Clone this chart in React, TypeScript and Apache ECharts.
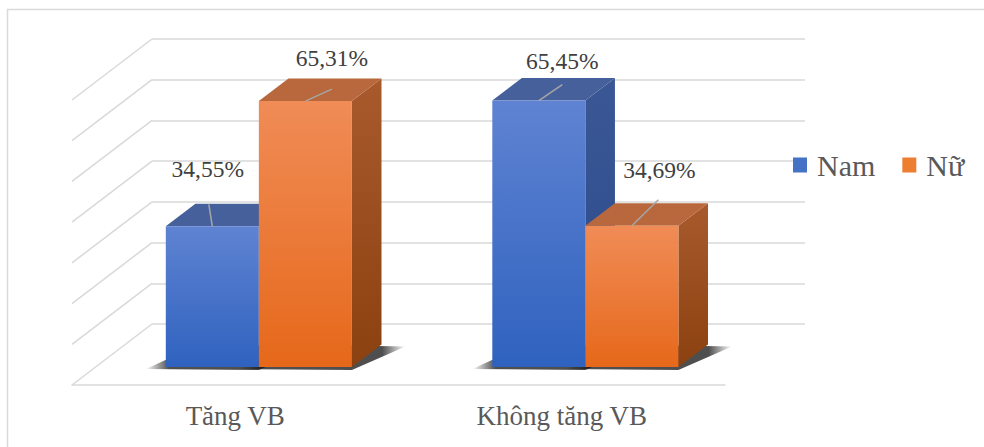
import React, { useEffect, useRef } from "react";
import * as echarts from "echarts";

const categories = ["Tăng VB", "Không tăng VB"];
const seriesNames = ["Nam", "Nữ"];
const namValues = [34.55, 65.45];
const nuValues = [65.31, 34.69];
const yTicks = [0, 10, 20, 30, 40, 50, 60, 70];
const yMin = 0;
const yMax = 70;
const yInterval = 10;

// style constants
const FONT = "Liberation Serif";
const DEPTH = [80, -61]; // oblique depth vector of the floor
const D_FRONT = 0.295;
const D_BACK = 0.665;
const BAR_RATIO = 0.285;
const labelOffsets = [
  [[-4.5, -57], [23.5, -40]],
  [[26.5, -43.5], [27.5, -55.5]],
];
const leaderEnds = [
  [[-3.5, -22], [23.5, -16]],
  [[26.5, -12], [26.5, -26]],
];
const palette = [
  {
    legend: "#4472C4",
    front: ["#5F83D2", "#2F62BF"],
    top: "#46609B",
    side: ["#3B5795", "#2A4A8C"],
  },
  {
    legend: "#ED7D31",
    front: ["#F08C57", "#E6681A"],
    top: "#B8683C",
    side: ["#A85A2D", "#8C4110"],
  },
];

const fmt = (v: number) => v.toFixed(2).replace(".", ",") + "%";

function vgrad(c: string[]) {
  return {
    type: "linear",
    x: 0,
    y: 0,
    x2: 0,
    y2: 1,
    colorStops: [
      { offset: 0, color: c[0] },
      { offset: 1, color: c[1] },
    ],
  };
}

function barGeom(api: any, s: number) {
  const cat = api.value(0);
  const val = api.value(1);
  const base = api.coord([cat, 0]);
  const top = api.coord([cat, val]);
  const band = api.size([1, 0])[0];
  const w = band * BAR_RATIO;
  const x0 = base[0] - w + s * w + D_FRONT * DEPTH[0];
  const yb = base[1] + D_FRONT * DEPTH[1];
  const yt = top[1] + D_FRONT * DEPTH[1];
  const dx = (D_BACK - D_FRONT) * DEPTH[0];
  const dy = (D_BACK - D_FRONT) * DEPTH[1];
  return { cat, val, x0, yb, yt, w, dx, dy };
}

function makeBarRender(s: number) {
  return (params: any, api: any) => {
    const { cat, val, x0, yb, yt, w, dx, dy } = barGeom(api, s);
    const p = palette[s];
    const cx = x0 + w / 2;
    const lo = labelOffsets[s][cat];
    const le = leaderEnds[s][cat];
    return {
      type: "group",
      children: [
        {
          type: "polygon",
          shape: {
            points: [
              [x0 + w, yt],
              [x0 + w + dx, yt + dy],
              [x0 + w + dx, yb + dy],
              [x0 + w, yb],
            ],
          },
          style: { fill: vgrad(p.side) },
        },
        {
          type: "polygon",
          shape: {
            points: [
              [x0, yt],
              [x0 + w, yt],
              [x0 + w + dx, yt + dy],
              [x0 + dx, yt + dy],
            ],
          },
          style: { fill: p.top },
        },
        {
          type: "rect",
          shape: { x: x0, y: yt, width: w, height: yb - yt },
          style: { fill: vgrad(p.front) },
        },
        {
          type: "line",
          shape: { x1: cx, y1: yt, x2: cx + le[0], y2: yt + le[1] },
          style: { stroke: "#A6A6A6", lineWidth: 1.5 },
        },
        {
          type: "text",
          x: cx + lo[0],
          y: yt + lo[1],
          style: {
            text: fmt(val),
            fontFamily: FONT,
            fontSize: 23.5,
            fill: "#404040",
            align: "center",
            verticalAlign: "middle",
          },
        },
      ],
    };
  };
}

function makeShadowRender(s: number) {
  return (params: any, api: any) => {
    const { x0, yb, w, dx, dy } = barGeom(api, s);
    const dark = "rgba(20,20,20,0.75)";
    const clear = "rgba(20,20,20,0)";
    return {
      type: "polygon",
      shape: {
        points: [
          [x0 - 20, yb + 2],
          [x0 + w, yb + 3],
          [x0 + w + dx + 24, yb + dy + 2],
          [x0 + dx + 4, yb + dy],
        ],
      },
      style: {
        fill: {
          type: "linear",
          x: 0,
          y: 0,
          x2: 1,
          y2: 0,
          colorStops: [
            { offset: 0, color: clear },
            { offset: 0.14, color: dark },
            { offset: 0.86, color: dark },
            { offset: 1, color: clear },
          ],
        },
      },
    };
  };
}

export default function App() {
  const ref = useRef<HTMLDivElement>(null);
  useEffect(() => {
    if (!ref.current) return;
    const chart = echarts.init(ref.current, undefined, { renderer: "svg" });
    const seriesData = [namValues, nuValues];
    const option: any = {
      animation: false,
      backgroundColor: "#ffffff",
      graphic: [
        {
          type: "rect",
          shape: { x: 7.5, y: 9.5, width: 1000, height: 500 },
          style: { fill: "none", stroke: "#D9D9D9", lineWidth: 1.5 },
          silent: true,
        },
      ],
      legend: {
        data: seriesNames,
        left: 788,
        top: 145,
        icon: "rect",
        itemWidth: 14,
        itemHeight: 15,
        itemGap: 27,
        textStyle: {
          fontFamily: FONT,
          fontSize: 30,
          color: "#595959",
          padding: [0, 0, 0, 5],
        },
      },
      grid: [
        { left: 72, right: 259, top: 100, bottom: 62 },
        { left: 152, right: 179, top: 39, bottom: 123 },
      ],
      xAxis: [
        {
          type: "category",
          gridIndex: 0,
          data: categories,
          axisLine: { show: true, lineStyle: { color: "#D9D9D9", width: 1.5 } },
          axisTick: { show: false },
          axisLabel: {
            margin: 17,
            fontFamily: FONT,
            fontSize: 27,
            color: "#595959",
          },
        },
        { type: "category", gridIndex: 1, data: categories, show: false },
      ],
      yAxis: [
        {
          type: "value",
          gridIndex: 0,
          min: yMin,
          max: yMax,
          interval: yInterval,
          show: false,
          splitLine: { show: false },
        },
        {
          type: "value",
          gridIndex: 1,
          min: yMin,
          max: yMax,
          interval: yInterval,
          axisLine: { show: false },
          axisTick: { show: false },
          axisLabel: { show: false },
          splitLine: { show: true, lineStyle: { color: "#D9D9D9", width: 1.5 } },
        },
      ],
      series: [
        {
          type: "custom",
          name: "walls",
          xAxisIndex: 1,
          yAxisIndex: 1,
          clip: false,
          z: 1,
          data: yTicks.map((v) => [0, v]),
          encode: { x: 0, y: 1 },
          renderItem: (params: any, api: any) => {
            const p = api.coord([0, api.value(1)]);
            const left = params.coordSys.x;
            return {
              type: "line",
              shape: { x1: left, y1: p[1], x2: left - DEPTH[0], y2: p[1] - DEPTH[1] },
              style: { stroke: "#D9D9D9", lineWidth: 1.5 },
            };
          },
        },
        ...seriesData.map((vals, s) => ({
          type: "custom",
          name: "shadow" + s,
          xAxisIndex: 0,
          yAxisIndex: 0,
          clip: false,
          z: 2,
          silent: true,
          data: vals.map((v, i) => [i, v]),
          encode: { x: 0, y: 1 },
          renderItem: makeShadowRender(s),
        })),
        ...seriesData.map((vals, s) => ({
          type: "custom",
          name: seriesNames[s],
          xAxisIndex: 0,
          yAxisIndex: 0,
          clip: false,
          z: 3,
          itemStyle: { color: palette[s].legend },
          data: vals.map((v, i) => [i, v]),
          encode: { x: 0, y: 1 },
          renderItem: makeBarRender(s),
        })),
      ],
    };
    chart.setOption(option);
    return () => chart.dispose();
  }, []);
  return (
    <div
      ref={ref}
      style={{ position: "fixed", left: 0, top: 0, width: 984, height: 447, background: "#fff" }}
    />
  );
}
